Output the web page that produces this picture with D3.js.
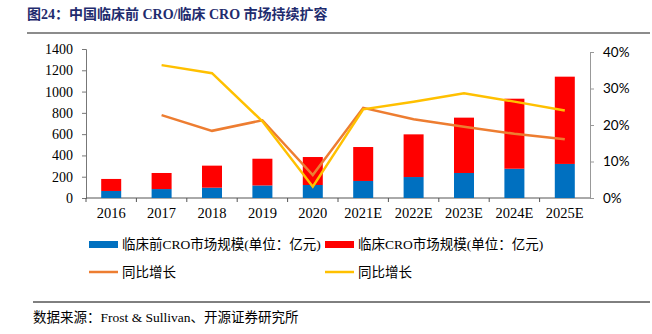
<!DOCTYPE html>
<html>
<head>
<meta charset="utf-8">
<script src="https://cdn.jsdelivr.net/npm/d3@7"></script>
<style>
  body { margin: 0; background: #fff; }
  svg { display: block; }
</style>
</head>
<body>
<svg id="root"></svg>
<script>
const years = ["2016", "2017", "2018", "2019", "2020", "2021E", "2022E", "2023E", "2024E", "2025E"];
const preClinical = [66, 84, 97, 118, 122, 160, 197, 235, 275, 320];
const clinical = [113, 151, 207, 251, 263, 319, 401, 520, 658, 820];
const growthOrange = [null, 22.7, 18.4, 21.3, 6.3, 24.7, 21.6, 19.5, 17.6, 16.1];
const growthYellow = [null, 36.4, 34.2, 21.0, 3.1, 24.3, 26.4, 28.7, 26.4, 24.0];
const leftTicks = [0, 200, 400, 600, 800, 1000, 1200, 1400];
const rightTicks = [0, 10, 20, 30, 40];

const width = 652, height = 334;
const serif = "'Liberation Serif', 'Times New Roman', serif";
const cjk = "'Liberation Serif', 'Noto Sans CJK SC', serif";

const svg = d3.select("svg#root").attr("width", width).attr("height", height);

// title
svg.append("text")
  .attr("x", 27).attr("y", 19)
  .attr("font-family", "'Liberation Serif', 'Noto Sans CJK SC'")
  .attr("font-weight", "bold")
  .attr("font-size", "14px")
  .attr("fill", "#1f2c6e")
  .text("图24：中国临床前 CRO/临床 CRO 市场持续扩容");
svg.append("line")
  .attr("x1", 27).attr("x2", 650).attr("y1", 33).attr("y2", 33)
  .attr("stroke", "#8c8c8c").attr("stroke-width", 2);

const x = d3.scaleBand().domain(years).range([86, 590]);
const y = d3.scaleLinear().domain([0, 1400]).range([198, 49]);
const y2 = d3.scaleLinear().domain([0, 40]).range([198, 52]);

// left axis
const gl = svg.append("g").attr("transform", "translate(86,0)")
  .call(d3.axisLeft(y).tickValues(leftTicks).tickSize(4).tickPadding(9).tickFormat(d3.format("d")));
gl.selectAll("text").attr("font-family", serif).attr("font-size", "14px").attr("fill", "#000");
gl.selectAll("line, path").attr("stroke", "#777");

// right axis
const gr = svg.append("g").attr("transform", "translate(590,0)")
  .call(d3.axisRight(y2).tickValues(rightTicks).tickSize(4).tickPadding(9)
    .tickFormat((d) => d + "%"));
gr.selectAll("text").attr("font-family", "Lato, 'Noto Sans', sans-serif").attr("font-size", "13.5px").attr("fill", "#000");
gr.selectAll("line, path").attr("stroke", "#999");

// bottom axis, ticks between categories
const gb = svg.append("g").attr("transform", "translate(0,198)");
gb.append("line").attr("x1", 86).attr("x2", 590).attr("stroke", "#555");
gb.selectAll("line.tk")
  .data(years)
  .join("line")
  .attr("class", "tk")
  .attr("x1", (d) => x(d)).attr("x2", (d) => x(d))
  .attr("y1", 0).attr("y2", 4)
  .attr("stroke", "#555");
gb.selectAll("text")
  .data(years)
  .join("text")
  .attr("x", (d) => x(d) + x.bandwidth() / 2)
  .attr("y", 20)
  .attr("text-anchor", "middle")
  .attr("font-family", serif)
  .attr("font-size", "14.5px")
  .text((d) => d);

// stacked bars
const barW = 20;
const bars = svg.append("g");
years.forEach((yr, i) => {
  const bx = x(yr) + (x.bandwidth() - barW) / 2;
  bars.append("rect")
    .attr("x", bx).attr("width", barW)
    .attr("y", y(preClinical[i]))
    .attr("height", y(0) - y(preClinical[i]))
    .attr("fill", "#0070c0");
  bars.append("rect")
    .attr("x", bx).attr("width", barW)
    .attr("y", y(preClinical[i] + clinical[i]))
    .attr("height", y(preClinical[i]) - y(preClinical[i] + clinical[i]))
    .attr("fill", "#ff0000");
});

// growth lines
const line = d3.line()
  .defined((d) => d.v != null)
  .x((d) => x(d.k) + x.bandwidth() / 2)
  .y((d) => y2(d.v));
svg.append("path")
  .datum(years.map((k, i) => ({ k, v: growthOrange[i] })))
  .attr("d", line)
  .attr("fill", "none").attr("stroke", "#ed7d31").attr("stroke-width", 2.5);
svg.append("path")
  .datum(years.map((k, i) => ({ k, v: growthYellow[i] })))
  .attr("d", line)
  .attr("fill", "none").attr("stroke", "#ffc000").attr("stroke-width", 2.5);

// legend
const legend = [
  { label: "临床前CRO市场规模(单位：亿元)", color: "#0070c0", type: "rect", lx: 89, ly: 244 },
  { label: "临床CRO市场规模(单位：亿元)", color: "#ff0000", type: "rect", lx: 325, ly: 244 },
  { label: "同比增长", color: "#ed7d31", type: "line", lx: 89, ly: 272 },
  { label: "同比增长", color: "#ffc000", type: "line", lx: 325, ly: 272 },
];
const lg = svg.append("g");
legend.forEach((d) => {
  if (d.type === "rect") {
    lg.append("rect").attr("x", d.lx).attr("y", d.ly - 3).attr("width", 29).attr("height", 7).attr("fill", d.color);
  } else {
    lg.append("line").attr("x1", d.lx).attr("x2", d.lx + 29).attr("y1", d.ly).attr("y2", d.ly)
      .attr("stroke", d.color).attr("stroke-width", 2.5);
  }
  lg.append("text")
    .attr("x", d.lx + 33).attr("y", d.ly + 5)
    .attr("font-family", cjk).attr("font-size", "13.5px").attr("fill", "#000")
    .text(d.label);
});

// source
svg.append("line")
  .attr("x1", 33).attr("x2", 650).attr("y1", 302).attr("y2", 302)
  .attr("stroke", "#000").attr("stroke-width", 1);
svg.append("text")
  .attr("x", 33).attr("y", 322)
  .attr("font-family", cjk).attr("font-size", "13.5px").attr("fill", "#000")
  .text("数据来源：Frost & Sullivan、开源证券研究所");
</script>
</body>
</html>
